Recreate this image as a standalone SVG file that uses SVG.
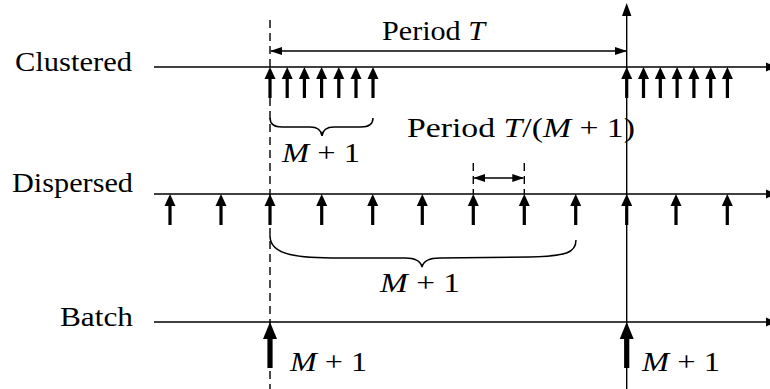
<svg xmlns="http://www.w3.org/2000/svg" xmlns:xlink="http://www.w3.org/1999/xlink" width="770" height="389" viewBox="0 0 770 389">
<style>
text{font-family:"Liberation Serif","Times New Roman","DejaVu Serif",serif;font-size:28px;fill:#000}
.i{font-style:italic}
.ax{stroke:#000;stroke-width:1.4;fill:none}
.dash{stroke:#000;stroke-width:1.4;stroke-dasharray:8 5;fill:none}
.brace{stroke:#000;stroke-width:1.5;fill:none}
</style>
<defs>
<g id="sa"><polygon points="0,0 -5.5,12 5.5,12" fill="#000"/><rect x="-1.6" y="10" width="3.2" height="21" fill="#000"/></g>
<g id="ba"><polygon points="0,0 -7,17 7,17" fill="#000"/><rect x="-2.6" y="15" width="5.2" height="31" fill="#000"/></g>
<marker id="ah" markerWidth="12" markerHeight="8" refX="11" refY="4" orient="auto-start-reverse" markerUnits="userSpaceOnUse"><path d="M0,0 L12,4 L0,8 Z" fill="#000"/></marker>
</defs>

<g id="connectors">
<line class="ax" x1="154" y1="67" x2="770" y2="67"/>
<polygon points="766,62.5 776,67 766,71.5" fill="#000"/>
<line class="ax" x1="154" y1="194" x2="770" y2="194"/>
<polygon points="766,189.5 776,194 766,198.5" fill="#000"/>
<line class="ax" x1="154" y1="322" x2="770" y2="322"/>
<polygon points="766,317.5 776,322 766,326.5" fill="#000"/>
<line class="dash" x1="270" y1="20" x2="270" y2="389"/>
<line class="ax" x1="626.7" y1="10" x2="626.7" y2="389"/>
<polygon points="626.7,3 622,16 631.4,16" fill="#000"/>
<line class="ax" x1="271" y1="51" x2="626" y2="51" marker-start="url(#ah)" marker-end="url(#ah)"/>
<line class="dash" x1="473.3" y1="163" x2="473.3" y2="194"/>
<line class="dash" x1="524.3" y1="163" x2="524.3" y2="194"/>
<line class="ax" x1="474.3" y1="178" x2="523.3" y2="178" marker-start="url(#ah)" marker-end="url(#ah)"/>
<path class="brace" d="M270,118 Q270,127 282,127 L310,127 Q321,127 322,136 Q323,127 334,127 L361,127 Q373,127 373,118"/>
<path class="brace" d="M270,236 C270,256 300,258 340,258 L405,258 Q420,258 422,267 Q424,258 440,258 L530,257 C566,256 576,253 576,240"/>
</g>

<g id="clustered">
<text x="15" y="71" textLength="117" lengthAdjust="spacingAndGlyphs">Clustered</text>
<use xlink:href="#sa" x="270" y="67"/>
<use xlink:href="#sa" x="287.2" y="67"/>
<use xlink:href="#sa" x="304.4" y="67"/>
<use xlink:href="#sa" x="321.6" y="67"/>
<use xlink:href="#sa" x="338.8" y="67"/>
<use xlink:href="#sa" x="356" y="67"/>
<use xlink:href="#sa" x="373" y="67"/>
<use xlink:href="#sa" x="626.7" y="67"/>
<use xlink:href="#sa" x="643.5" y="67"/>
<use xlink:href="#sa" x="660.3" y="67"/>
<use xlink:href="#sa" x="677.1" y="67"/>
<use xlink:href="#sa" x="693.9" y="67"/>
<use xlink:href="#sa" x="710.7" y="67"/>
<use xlink:href="#sa" x="727.4" y="67"/>
</g>

<g id="period-labels">
<text x="382" y="40" textLength="103" lengthAdjust="spacingAndGlyphs">Period <tspan class="i">T</tspan></text>
<text x="407" y="137" textLength="228" lengthAdjust="spacingAndGlyphs">Period <tspan class="i">T</tspan>/(<tspan class="i">M</tspan> + 1)</text>
<text x="282" y="162" textLength="78" lengthAdjust="spacingAndGlyphs"><tspan class="i">M</tspan> + 1</text>
</g>

<g id="dispersed">
<text x="12" y="192" textLength="121" lengthAdjust="spacingAndGlyphs">Dispersed</text>
<use xlink:href="#sa" x="170" y="194"/>
<use xlink:href="#sa" x="221" y="194"/>
<use xlink:href="#sa" x="270" y="194"/>
<use xlink:href="#sa" x="321.7" y="194"/>
<use xlink:href="#sa" x="372.7" y="194"/>
<use xlink:href="#sa" x="422.3" y="194"/>
<use xlink:href="#sa" x="473.3" y="194"/>
<use xlink:href="#sa" x="524.3" y="194"/>
<use xlink:href="#sa" x="575.7" y="194"/>
<use xlink:href="#sa" x="626.7" y="194"/>
<use xlink:href="#sa" x="676" y="194"/>
<use xlink:href="#sa" x="727.3" y="194"/>
<text x="380" y="292" textLength="80" lengthAdjust="spacingAndGlyphs"><tspan class="i">M</tspan> + 1</text>
</g>

<g id="batch">
<text x="60" y="326" textLength="73" lengthAdjust="spacingAndGlyphs">Batch</text>
<use xlink:href="#ba" x="270" y="322"/>
<use xlink:href="#ba" x="626.7" y="322"/>
<text x="290" y="371" textLength="77" lengthAdjust="spacingAndGlyphs"><tspan class="i">M</tspan> + 1</text>
<text x="642" y="371" textLength="78" lengthAdjust="spacingAndGlyphs"><tspan class="i">M</tspan> + 1</text>
</g>
</svg>
